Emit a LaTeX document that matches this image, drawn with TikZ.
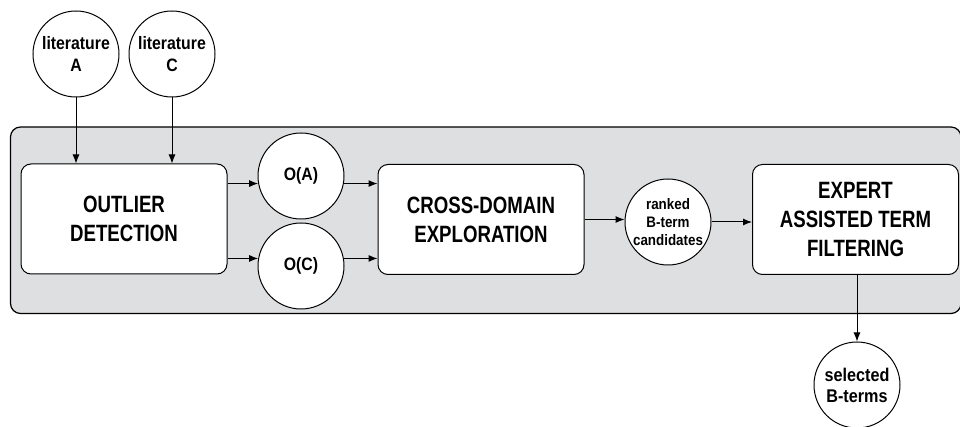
\documentclass[tikz,border=0pt]{standalone}
\usepackage{fontspec}
\setmainfont{Liberation Sans}[FakeStretch=0.88]
\newfontfamily\boxfont{Liberation Sans}[FakeStretch=0.79]
\usetikzlibrary{arrows.meta}
\definecolor{panelgray}{RGB}{222,223,225}
\tikzset{
  >={Latex[length=4.5pt,width=3.5pt]},
  panel/.style = {
    draw, fill=panelgray, line width=0.6pt, rounded corners=5pt,
    minimum width=475.25pt, minimum height=93.25pt, inner sep=0pt
  },
  stage/.style = {
    draw, fill=white, line width=0.5pt, rounded corners=5pt,
    minimum width=103pt, minimum height=55pt, inner sep=0pt,
    align=center, font=\boxfont\bfseries\fontsize{11.8}{14.5}\selectfont
  },
  termset/.style = {
    draw, fill=white, circle, line width=0.5pt,
    minimum size=43pt, inner sep=0pt,
    align=center, font=\bfseries\fontsize{9}{11}\selectfont
  },
  flow/.style = {->, line width=0.5pt}
}

\begin{document}
\begin{tikzpicture}[x=0.5pt,y=-0.5pt]
  \useasboundingbox (0,0) rectangle (960,427);
  \node[panel] (panel) at (485.75,220.25) {};
  \node[termset] (litA) at (76,54) {literature\\A};
  \node[termset] (litC) at (172,54) {literature\\C};
  \node[stage] (outlier) at (124,219) {OUTLIER\\DETECTION};
  \node[termset] (OA) at (301,176) {O(A)};
  \node[termset] (OC) at (301,266) {O(C)};
  \node[stage] (cross) at (481,219.5) {CROSS-DOMAIN\\EXPLORATION};
  \node[termset, font=\bfseries\fontsize{7.6}{9}\selectfont] (ranked) at (668,222) {ranked\\B-term\\candidates};
  \node[stage] (expert) at (855.5,219.5) {EXPERT\\ASSISTED TERM\\FILTERING};
  \node[termset, font=\bfseries\fontsize{9.2}{10.5}\selectfont] (selected) at (857,385) {selected\\B-terms};
  \draw[flow] (litA) -- (litA |- outlier.north);
  \draw[flow] (litC) -- (litC |- outlier.north);
  \draw[flow] (outlier.east |- OA.190) -- (OA.190);
  \draw[flow] (outlier.east |- OC.170) -- (OC.170);
  \draw[flow] (OA.-10) -- (OA.-10 -| cross.west);
  \draw[flow] (OC.10) -- (OC.10 -| cross.west);
  \draw[flow] (cross) -- (cross -| ranked.west);
  \draw[flow] (ranked.east) -- (ranked.east -| expert.west);
  \draw[flow] (selected |- expert.south) -- (selected);
\end{tikzpicture}
\end{document}
